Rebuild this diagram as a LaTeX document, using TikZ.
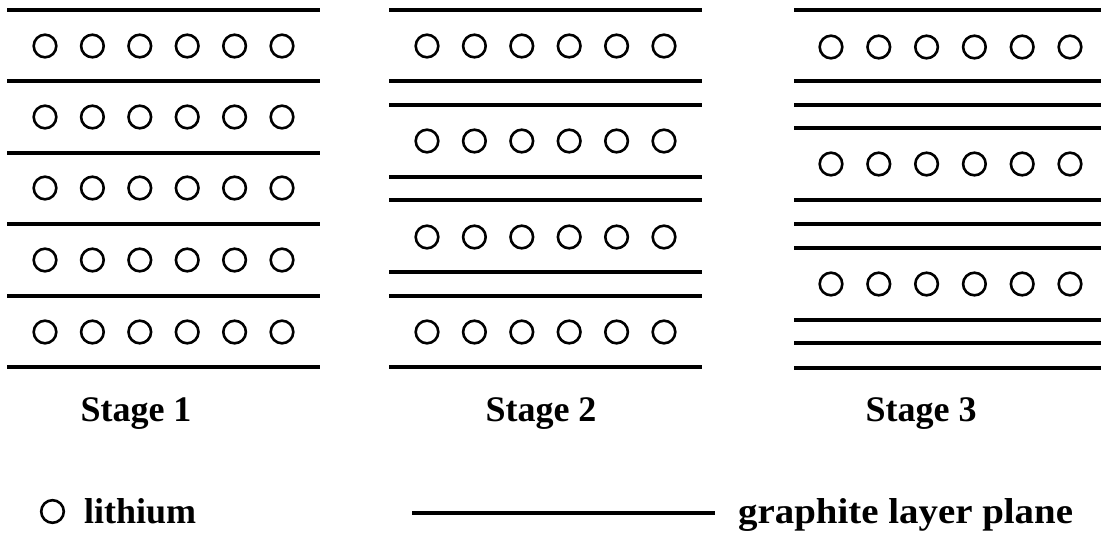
\documentclass[tikz,border=0pt]{standalone}
\usepackage{fontspec}
\setmainfont{Liberation Serif}
\begin{document}
\begin{tikzpicture}[x=1pt,y=-1pt,
  layer/.style={line width=3.2pt},
  li/.style={line width=2.6pt},
  lbl/.style={font=\fontsize{36}{40}\selectfont\bfseries, inner sep=0pt, anchor=base}]
\useasboundingbox (0,0) rectangle (1101,536);
% Stage 1
\foreach \y in {10,81,153,224,296,367} \draw[layer] (7,\y) -- (320,\y);
\foreach \y in {46,117,188,260,332}
  \foreach \i in {0,...,5} \draw[li] (45+47.4*\i,\y) circle (11.3);
% Stage 2
\foreach \y in {10,81,105,177,200,272,296,367} \draw[layer] (389,\y) -- (702,\y);
\foreach \y in {46,141,237,332}
  \foreach \i in {0,...,5} \draw[li] (427+47.4*\i,\y) circle (11.3);
% Stage 3
\foreach \y in {10,81,105,128,200,224,248,320,343,368} \draw[layer] (794,\y) -- (1101,\y);
\foreach \y in {47,164,284}
  \foreach \i in {0,...,5} \draw[li] (831+47.8*\i,\y) circle (11.3);
% labels
\node[lbl] (s1) at (136,421) {Stage 1};
\node[lbl] (s2) at (541,421) {Stage 2};
\node[lbl] (s3) at (921,421) {Stage 3};
% legend
\draw[li] (52.5,511.5) circle (11.3);
\node[lbl, anchor=base west] (lith) at (84,523) {lithium};
\draw[layer] (412,513) -- (715,513);
\node[lbl, anchor=base west, xscale=1.08, transform shape] (graph) at (738,523) {graphite layer plane};
\end{tikzpicture}
\end{document}
